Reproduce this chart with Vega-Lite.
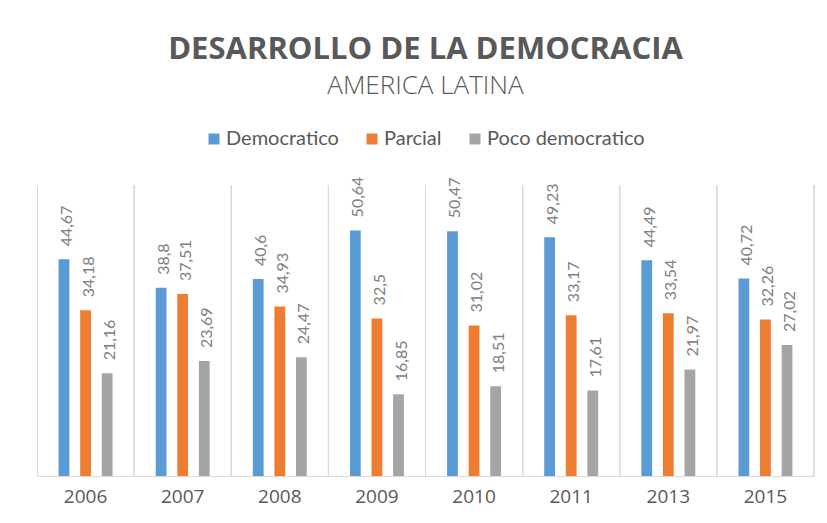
{
  "$schema": "https://vega.github.io/schema/vega-lite/v6.json",
  "width": 777,
  "height": 291,
  "autosize": "none",
  "padding": {"left": 37, "top": 185, "right": 13, "bottom": 47},
  "background": "white",
  "title": {
    "text": "DESARROLLO  DE LA DEMOCRACIA",
    "subtitle": "AMERICA LATINA",
    "anchor": "middle",
    "font": "Open Sans",
    "fontSize": 31,
    "fontWeight": "bold",
    "color": "#595959",
    "subtitleFont": "Open Sans",
    "subtitleFontSize": 26,
    "subtitleFontWeight": 300,
    "subtitleColor": "#595959",
    "subtitlePadding": 7,
    "offset": 29
  },
  "config": {
    "locale": {"number": {"decimal": ",", "thousands": ".", "grouping": [3], "currency": ["", ""]}},
    "view": {"stroke": null},
    "font": "Lato"
  },
  "data": {
    "values": [
      {"year": "2006", "serie": "Democratico", "value": 44.67},
      {"year": "2006", "serie": "Parcial", "value": 34.18},
      {"year": "2006", "serie": "Poco democratico", "value": 21.16},
      {"year": "2007", "serie": "Democratico", "value": 38.8},
      {"year": "2007", "serie": "Parcial", "value": 37.51},
      {"year": "2007", "serie": "Poco democratico", "value": 23.69},
      {"year": "2008", "serie": "Democratico", "value": 40.6},
      {"year": "2008", "serie": "Parcial", "value": 34.93},
      {"year": "2008", "serie": "Poco democratico", "value": 24.47},
      {"year": "2009", "serie": "Democratico", "value": 50.64},
      {"year": "2009", "serie": "Parcial", "value": 32.5},
      {"year": "2009", "serie": "Poco democratico", "value": 16.85},
      {"year": "2010", "serie": "Democratico", "value": 50.47},
      {"year": "2010", "serie": "Parcial", "value": 31.02},
      {"year": "2010", "serie": "Poco democratico", "value": 18.51},
      {"year": "2011", "serie": "Democratico", "value": 49.23},
      {"year": "2011", "serie": "Parcial", "value": 33.17},
      {"year": "2011", "serie": "Poco democratico", "value": 17.61},
      {"year": "2013", "serie": "Democratico", "value": 44.49},
      {"year": "2013", "serie": "Parcial", "value": 33.54},
      {"year": "2013", "serie": "Poco democratico", "value": 21.97},
      {"year": "2015", "serie": "Democratico", "value": 40.72},
      {"year": "2015", "serie": "Parcial", "value": 32.26},
      {"year": "2015", "serie": "Poco democratico", "value": 27.02}
    ]
  },
  "encoding": {
    "x": {
      "field": "year",
      "type": "nominal",
      "scale": {"paddingInner": 0, "paddingOuter": 0},
      "axis": {
        "title": null,
        "labelAngle": 0,
        "labelFont": "Open Sans",
        "labelFontSize": 19,
        "labelColor": "#595959",
        "labelPadding": 11,
        "ticks": false,
        "grid": true,
        "bandPosition": 0,
        "gridColor": "#d9d9d9",
        "domainColor": "#d9d9d9"
      }
    },
    "xOffset": {
      "field": "serie",
      "type": "nominal",
      "sort": ["Democratico", "Parcial", "Poco democratico"],
      "scale": {"paddingInner": 0.5, "paddingOuter": 1.175}
    },
    "y": {
      "field": "value",
      "type": "quantitative",
      "scale": {"domain": [0, 60]},
      "axis": null
    }
  },
  "layer": [
    {
      "mark": {"type": "rule", "color": "#d9d9d9", "strokeWidth": 1},
      "encoding": {
        "x": {"field": "year", "type": "nominal", "bandPosition": 1},
        "xOffset": null,
        "y": null
      }
    },
    {
      "mark": {"type": "bar"},
      "encoding": {
        "color": {
          "field": "serie",
          "type": "nominal",
          "sort": ["Democratico", "Parcial", "Poco democratico"],
          "scale": {"range": ["#5B9BD5", "#ED7D31", "#A5A5A5"]},
          "legend": {
            "title": null,
            "orient": "none",
            "legendX": 167,
            "legendY": -56,
            "direction": "horizontal",
            "symbolType": "square",
            "symbolSize": 121,
            "symbolStrokeWidth": 0,
            "labelFontSize": 20,
            "labelColor": "#595959",
            "columnPadding": 23,
            "labelOffset": 2
          }
        }
      }
    },
    {
      "mark": {"type": "text", "angle": 270, "align": "left", "baseline": "middle", "dx": 13, "dy": 3, "fontSize": 16, "color": "#808080"},
      "encoding": {
        "text": {"field": "value", "type": "quantitative", "format": ".4~r"}
      }
    }
  ]
}
